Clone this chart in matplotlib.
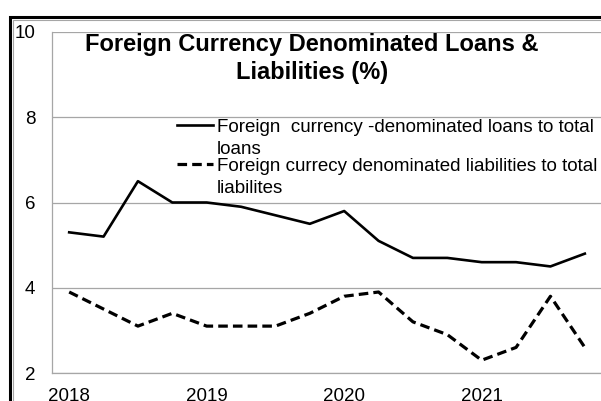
import matplotlib
matplotlib.use("Agg")
import numpy as np
import matplotlib.pyplot as plt
from matplotlib.patches import Rectangle

plt.rcParams['font.family'] = ['Liberation Sans', 'DejaVu Sans']

# Quarterly data, 2018Q1 - 2021Q4
quarters = list(range(16))
year_ticks = [0, 4, 8, 12]
year_labels = ['2018', '2019', '2020', '2021']
loans_share = [5.3, 5.2, 6.5, 6.0, 6.0, 5.9, 5.7, 5.5,
               5.8, 5.1, 4.7, 4.7, 4.6, 4.6, 4.5, 4.8]
liab_share = [3.9, 3.5, 3.1, 3.4, 3.1, 3.1, 3.1, 3.4,
              3.8, 3.9, 3.2, 2.9, 2.3, 2.6, 3.8, 2.6]
labels = ['Foreign  currency -denominated loans to total\nloans',
          'Foreign currecy denominated liabilities to total\nliabilites']
title = 'Foreign Currency Denominated Loans &\nLiabilities (%)'

W, H = 601, 401
FS = 13.5
fig = plt.figure(figsize=(W / 100, H / 100), dpi=100)
ax = fig.add_axes([52 / W, 28 / H, 550 / W, 341 / H])

ax.plot(quarters, loans_share, color='black', lw=1.9, label=labels[0])
ax.plot(quarters, liab_share, color='black', lw=2.3,
        linestyle=(0, (3.0, 1.6)), label=labels[1])

ax.set_xlim(-0.5, 15.5)
ax.set_ylim(2, 10)
ax.set_yticks([2, 4, 6, 8, 10])
ax.set_xticks(year_ticks)
ax.set_xticklabels(year_labels)
ax.tick_params(axis='both', length=0, labelsize=FS, colors='black')
ax.tick_params(axis='y', pad=12)
ax.tick_params(axis='x', pad=11)
ax.grid(axis='y', color='#a6a6a6', lw=0.9)
ax.set_axisbelow(True)
for side in ['top', 'right']:
    ax.spines[side].set_visible(False)
for side in ['left', 'bottom']:
    ax.spines[side].set_color('#a6a6a6')
    ax.spines[side].set_linewidth(0.9)

ax.text(0.473, 0.9985, title, transform=ax.transAxes, ha='center', va='top',
        fontsize=17, fontweight='bold', linespacing=1.3)

leg = ax.legend(loc='upper left', bbox_to_anchor=(177 / W, 1 - 119 / H),
                bbox_transform=fig.transFigure, frameon=False, fontsize=FS,
                handlelength=1.92, handletextpad=0.21, borderpad=0,
                borderaxespad=0, labelspacing=0.0)
for t in leg.get_texts():
    t.set_linespacing(1.38)

# keys sit beside the first line of each label
fig.canvas.draw()
renderer = fig.canvas.get_renderer()
for line, txt in zip(leg.get_lines(), leg.get_texts()):
    bb = txt.get_window_extent(renderer)
    h, d = renderer.get_text_width_height_descent(
        'lp', txt.get_fontproperties(), ismath=False)[1:]
    fs_px = txt.get_fontsize() * fig.dpi / 72
    y_disp = bb.y1 - (h - d) + 0.36 * fs_px
    inv = line.get_transform().inverted()
    _, y_new = inv.transform((0, y_disp))
    line.set_ydata(np.full(len(line.get_xdata()), y_new))

# outer chart frame
fig.add_artist(Rectangle((9.5 / W, -0.5), 2, 1 - 16.5 / H + 0.5,
                         transform=fig.transFigure, fill=False,
                         edgecolor='black', lw=2.2, clip_on=False))
fig.add_artist(Rectangle((12.5 / W, -0.5), 2, 1 - 19.5 / H + 0.5,
                         transform=fig.transFigure, fill=False,
                         edgecolor='#a6a6a6', lw=0.8, clip_on=False))

fig.savefig('out.png', dpi=100)
